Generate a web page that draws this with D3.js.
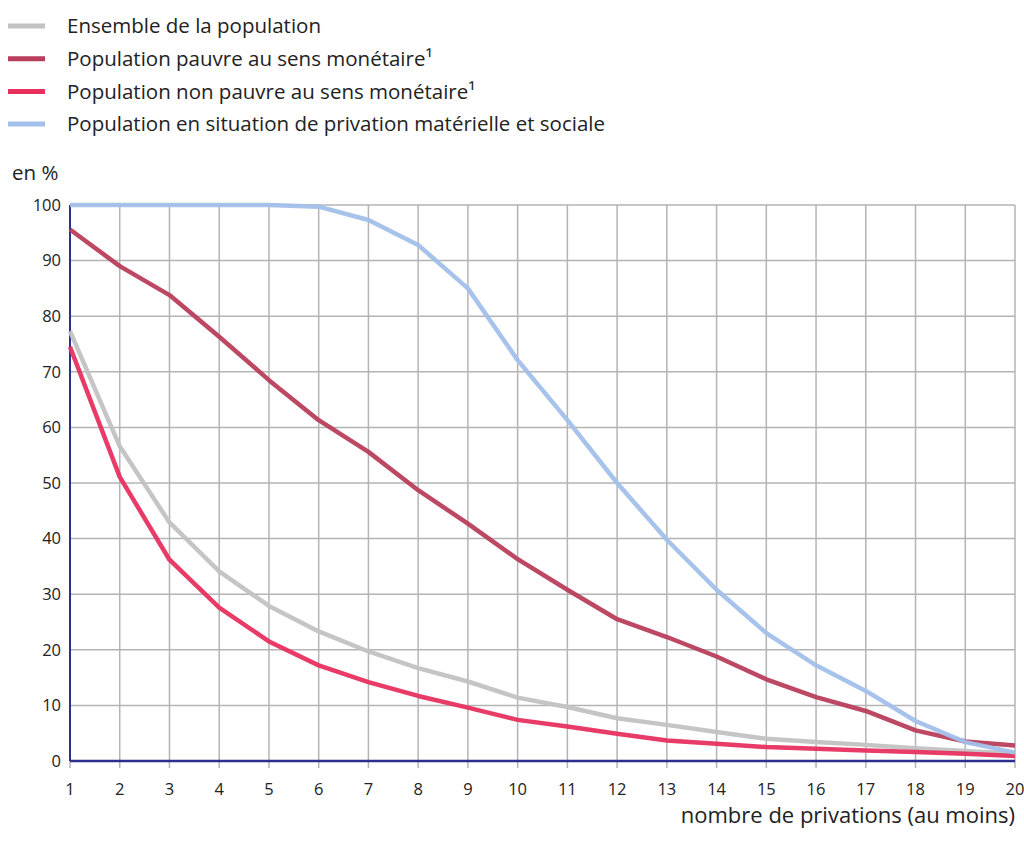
<!DOCTYPE html>
<html><head><meta charset="utf-8">
<script src="https://cdn.jsdelivr.net/npm/d3@7"></script>
<style>body{margin:0;background:#fff;} text{font-family:"Open Sans","Noto Sans",sans-serif;fill:#222;}</style>
</head><body><svg id="c" width="1024" height="853"></svg>
<script>
const categories = [1,2,3,4,5,6,7,8,9,10,11,12,13,14,15,16,17,18,19,20];
const ensemble   = [77.3,56.6,42.9,34.1,27.9,23.3,19.7,16.7,14.3,11.4,9.7,7.7,6.5,5.2,4.0,3.4,2.9,2.3,1.8,1.3];
const pauvre     = [95.6,89.0,83.8,76.3,68.5,61.3,55.6,48.7,42.7,36.3,30.8,25.5,22.3,18.8,14.7,11.5,9.0,5.5,3.5,2.8];
const nonPauvre  = [74.5,51.1,36.2,27.6,21.5,17.2,14.2,11.7,9.6,7.4,6.2,4.9,3.7,3.1,2.5,2.2,1.9,1.6,1.3,0.9];
const privation  = [100,100,100,100,100,99.7,97.3,92.8,85.0,72.1,61.3,50.0,39.8,30.8,23.0,17.2,12.6,7.2,3.4,1.5];
const yTicks = [0,10,20,30,40,50,60,70,80,90,100];
const seriesNames = ["Ensemble de la population","Population pauvre au sens monétaire¹","Population non pauvre au sens monétaire¹","Population en situation de privation matérielle et sociale"];
const seriesColors = ["#c2c2c2","#b83e5c","#e8305f","#a2c0ea"];
const seriesData = [ensemble, pauvre, nonPauvre, privation];

const svg = d3.select("#c");
const L=70,R=1015,T=205,B=761;
const x = d3.scaleLinear().domain([1,20]).range([L,R]);
const y = d3.scaleLinear().domain([0,100]).range([B,T]);

// grid
svg.append("g").selectAll("line.h").data(yTicks).join("line")
  .attr("x1",L).attr("x2",R).attr("y1",d=>y(d)).attr("y2",d=>y(d))
  .attr("stroke","#b4b4b4").attr("stroke-width",1.5);
svg.append("g").selectAll("line.v").data(categories).join("line")
  .attr("x1",d=>x(d)).attr("x2",d=>x(d)).attr("y1",T).attr("y2",B+7)
  .attr("stroke","#b4b4b4").attr("stroke-width",1.5);

// y labels
svg.append("g").selectAll("text").data(yTicks).join("text")
  .attr("x",L-9).attr("y",d=>y(d)).attr("dy","0.35em").attr("text-anchor","end")
  .attr("font-size",16.5).text(d=>d);
// x labels
svg.append("g").selectAll("text").data(categories).join("text")
  .attr("x",d=>x(d)).attr("y",795).attr("text-anchor","middle")
  .attr("font-size",16.5).text(d=>d);

svg.append("text").attr("x",12).attr("y",180).attr("font-size",20.5).text("en %");
svg.append("text").attr("x",R).attr("y",823).attr("text-anchor","end").attr("font-size",22).text("nombre de privations (au moins)");

// axes lines
svg.append("line").attr("x1",L).attr("x2",L).attr("y1",T).attr("y2",B).attr("stroke","#2c2f8f").attr("stroke-width",2);
svg.append("line").attr("x1",L).attr("x2",R).attr("y1",B).attr("y2",B).attr("stroke","#2c2f8f").attr("stroke-width",2.5);

// lines
const line = d3.line().x((d,i)=>x(categories[i])).y(d=>y(d));
[0,1,2,3].forEach(k=>{
  svg.append("path").datum(seriesData[k]).attr("d",line).attr("fill","none")
    .attr("stroke",seriesColors[k]).attr("stroke-width",4.5).attr("stroke-linejoin","round").attr("opacity",0.95);
});

// legend
const lg = svg.append("g");
seriesNames.forEach((n,i)=>{
  const yy = 26 + i*32.7;
  lg.append("line").attr("x1",8).attr("x2",45).attr("y1",yy).attr("y2",yy).attr("stroke",seriesColors[i]).attr("stroke-width",5);
  lg.append("text").attr("x",67).attr("y",yy).attr("dy","0.35em").attr("font-size",20.5).text(n);
});
</script></body></html>
